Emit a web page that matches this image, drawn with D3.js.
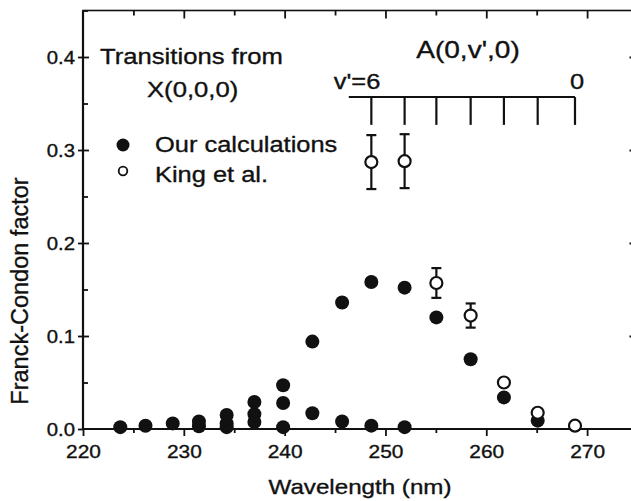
<!DOCTYPE html>
<html>
<head>
<meta charset="utf-8">
<script src="https://cdn.jsdelivr.net/npm/d3@7"></script>
<style>
  body { margin: 0; background: #fff; }
  text { font-family: "Liberation Sans", Arial, Helvetica, sans-serif; fill: #111; stroke: #111; stroke-width: 0.35px; }
</style>
</head>
<body>
<div id="chart"></div>
<script>
// wavelengths of the band positions (nm)
const wavelengths = [223.7, 226.2, 228.9, 231.5, 234.25, 237.0, 239.85, 242.75, 245.7, 248.6, 251.9, 255.05, 258.45, 261.75, 265.1, 268.8];

// our calculations (three progressions sharing the wavelength grid)
const calcUpper = [0.002, 0.0035, 0.006, 0.008, 0.015, 0.029, 0.047, 0.094, 0.136, 0.158, 0.152, 0.120, 0.075, 0.034, 0.009, null];
const calcMiddle = [null, null, null, 0.003, 0.006, 0.016, 0.028, 0.017, 0.008, 0.0036, 0.002, null, null, null, null, null];
const calcLower = [null, null, null, null, 0.002, 0.0075, 0.002, null, null, null, null, null, null, null, null, null];

// King et al. measurements and error bars
const kingValues = [null, null, null, null, null, null, null, null, null, 0.287, 0.288, 0.157, 0.122, 0.050, 0.0175, 0.0036];
const kingErrors = [0, 0, 0, 0, 0, 0, 0, 0, 0, 0.029, 0.029, 0.016, 0.013, 0, 0, 0];

// A(0,v',0) ladder: v' = 6 ... 0
const vPrime = [6, 5, 4, 3, 2, 1, 0];

const xTicks = [220, 230, 240, 250, 260, 270];
const xMinor = [225, 235, 245, 255, 265, 275];
const yTicks = [0, 0.1, 0.2, 0.3, 0.4];
const yMinor = [0.05, 0.15, 0.25, 0.35, 0.45];

const width = 631;
const height = 501;

const svg = d3.select('#chart')
    .append('svg')
    .attr('width', width)
    .attr('height', height);

const x = d3.scaleLinear()
    .domain([220, 275])
    .range([83, 637.5]);

const y = d3.scaleLinear()
    .domain([0, 0.45])
    .range([429, 10.5]);

// horizontally widen text a bit, like the scanned original
function stretch(sel, k) {
    sel.each(function () {
        const len = this.getComputedTextLength();
        d3.select(this).attr('textLength', len * k).attr('lengthAdjust', 'spacingAndGlyphs');
    });
}

function plainAxis(g) {
    g.select('.domain').remove();
    g.selectAll('line').attr('stroke', '#111').attr('stroke-width', 1.8);
}

// frame
svg.append('rect')
    .attr('x', x(220)).attr('y', y(0.45))
    .attr('width', x(275) - x(220)).attr('height', y(0) - y(0.45))
    .attr('fill', 'none').attr('stroke', '#111').attr('stroke-width', 1.6);
svg.append('line')
    .attr('x1', x(220)).attr('x2', x(275)).attr('y1', y(0)).attr('y2', y(0))
    .attr('stroke', '#111').attr('stroke-width', 2.2);
svg.append('line')
    .attr('x1', x(220)).attr('x2', x(220)).attr('y1', y(0)).attr('y2', y(0.45))
    .attr('stroke', '#111').attr('stroke-width', 2.2);

// bottom axis
const xAxisG = svg.append('g')
    .attr('transform', `translate(0,${y(0)})`)
    .call(d3.axisBottom(x).tickValues(xTicks).tickSize(7).tickFormat(d3.format('d')))
    .call(plainAxis);
xAxisG.selectAll('text')
    .attr('y', 29).attr('dy', 0)
    .style('font-size', '18.5px')
    .call(stretch, 1.13);
svg.append('g')
    .attr('transform', `translate(0,${y(0)})`)
    .call(d3.axisBottom(x).tickValues(xMinor).tickSize(4).tickFormat(''))
    .call(plainAxis);

// top axis (inward ticks)
svg.append('g')
    .attr('transform', `translate(0,${y(0.45)})`)
    .call(d3.axisBottom(x).tickValues(xTicks.slice(1)).tickSize(8).tickFormat(''))
    .call(plainAxis);
svg.append('g')
    .attr('transform', `translate(0,${y(0.45)})`)
    .call(d3.axisBottom(x).tickValues(xMinor).tickSize(5).tickFormat(''))
    .call(plainAxis);

// left axis
const yAxisG = svg.append('g')
    .attr('transform', `translate(${x(220)},0)`)
    .call(d3.axisLeft(y).tickValues(yTicks).tickSize(5).tickFormat(d3.format('.1f')))
    .call(plainAxis);
yAxisG.selectAll('text')
    .attr('x', -8).attr('dy', '0.36em')
    .style('font-size', '18.5px')
    .call(stretch, 1.1);
svg.append('g')
    .attr('transform', `translate(${x(220)},0)`)
    .call(d3.axisRight(y).tickValues(yTicks.slice(1)).tickSize(6).tickFormat(''))
    .call(plainAxis);
svg.append('g')
    .attr('transform', `translate(${x(220)},0)`)
    .call(d3.axisRight(y).tickValues(yMinor).tickSize(5).tickFormat(''))
    .call(plainAxis);

// right axis (inward ticks, frame sits just past the window)
svg.append('g')
    .attr('transform', `translate(${x(275)},0)`)
    .call(d3.axisLeft(y).tickValues(yTicks.slice(1)).tickSize(8).tickFormat(''))
    .call(plainAxis);

// axis titles
svg.append('text')
    .attr('x', 360).attr('y', 494)
    .attr('text-anchor', 'middle')
    .style('font-size', '21px')
    .text('Wavelength (nm)')
    .call(stretch, 1.15);
svg.append('text')
    .attr('transform', 'translate(28,291) rotate(-90)')
    .attr('text-anchor', 'middle')
    .style('font-size', '23.5px')
    .text('Franck-Condon factor');

// calculated points
const calcPoints = [calcUpper, calcMiddle, calcLower].flatMap(series =>
    series.map((v, i) => ({ wl: wavelengths[i], v: v })).filter(d => d.v !== null));

svg.append('g')
    .selectAll('circle')
    .data(calcPoints)
    .join('circle')
    .attr('cx', d => x(d.wl))
    .attr('cy', d => y(d.v))
    .attr('r', 7)
    .attr('fill', '#111');

// King et al. points with error bars
const king = kingValues.map((v, i) => ({ wl: wavelengths[i], v: v, e: kingErrors[i] })).filter(d => d.v !== null);
const bars = svg.append('g')
    .attr('stroke', '#111').attr('stroke-width', 2.2)
    .selectAll('g')
    .data(king.filter(d => d.e > 0))
    .join('g');
bars.append('line')
    .attr('x1', d => x(d.wl)).attr('x2', d => x(d.wl))
    .attr('y1', d => y(d.v - d.e)).attr('y2', d => y(d.v + d.e));
bars.append('line')
    .attr('x1', d => x(d.wl) - 5).attr('x2', d => x(d.wl) + 5)
    .attr('y1', d => y(d.v + d.e)).attr('y2', d => y(d.v + d.e));
bars.append('line')
    .attr('x1', d => x(d.wl) - 5).attr('x2', d => x(d.wl) + 5)
    .attr('y1', d => y(d.v - d.e)).attr('y2', d => y(d.v - d.e));

svg.append('g')
    .selectAll('circle')
    .data(king)
    .join('circle')
    .attr('cx', d => x(d.wl))
    .attr('cy', d => y(d.v))
    .attr('r', 6)
    .attr('fill', '#fff')
    .attr('stroke', '#111')
    .attr('stroke-width', 2.2);

// A(0,v',0) ladder
const ladderWl = wavelengths.slice(-vPrime.length);
const ladder = svg.append('g').attr('stroke', '#111').attr('stroke-width', 2.2);
ladder.append('line')
    .attr('x1', x(246.36)).attr('x2', x(ladderWl[ladderWl.length - 1]))
    .attr('y1', y(0.357)).attr('y2', y(0.357));
ladder.selectAll('line.rung')
    .data(ladderWl)
    .join('line')
    .attr('class', 'rung')
    .attr('x1', d => x(d)).attr('x2', d => x(d))
    .attr('y1', y(0.357)).attr('y2', y(0.327));

svg.append('text')
    .attr('x', x(ladderWl[0]) + 9).attr('y', y(0.366))
    .attr('text-anchor', 'end')
    .style('font-size', '22.5px')
    .text(`v'=${vPrime[0]}`)
    .call(stretch, 1.13);
svg.append('text')
    .attr('x', x(ladderWl[ladderWl.length - 1]) + 2).attr('y', y(0.366))
    .attr('text-anchor', 'middle')
    .style('font-size', '22.5px')
    .text(`${vPrime[vPrime.length - 1]}`)
    .call(stretch, 1.13);
svg.append('text')
    .attr('x', 468).attr('y', 58)
    .attr('text-anchor', 'middle')
    .style('font-size', '24px')
    .text("A(0,v',0)")
    .call(stretch, 1.17);

// heading
svg.append('text')
    .attr('x', 100).attr('y', 64)
    .style('font-size', '22.5px')
    .text('Transitions from')
    .call(stretch, 1.14);
svg.append('text')
    .attr('x', 147).attr('y', 97)
    .style('font-size', '22.5px')
    .text('X(0,0,0)')
    .call(stretch, 1.14);

// legend
svg.append('circle').attr('cx', 123).attr('cy', 145).attr('r', 6.5).attr('fill', '#111');
svg.append('text')
    .attr('x', 155).attr('y', 152)
    .style('font-size', '22.5px')
    .text('Our calculations')
    .call(stretch, 1.13);
svg.append('circle').attr('cx', 123).attr('cy', 171).attr('r', 4.3)
    .attr('fill', '#fff').attr('stroke', '#111').attr('stroke-width', 1.8);
svg.append('text')
    .attr('x', 155).attr('y', 182)
    .style('font-size', '22.5px')
    .text('King et al.')
    .call(stretch, 1.13);
</script>
</body>
</html>
